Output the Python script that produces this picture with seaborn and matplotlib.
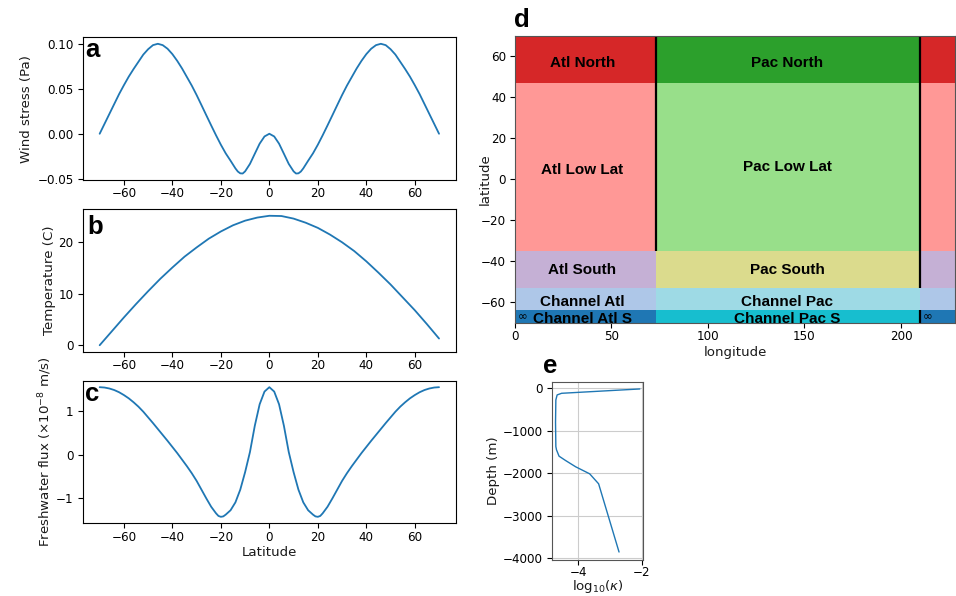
import numpy as np
import pandas as pd
import matplotlib
matplotlib.use("Agg")
import matplotlib.pyplot as plt
from matplotlib.colors import ListedColormap
import seaborn as sns

# ---------------- data ----------------
lat_wind = [-70, -68, -66, -64, -62, -60, -58, -56, -54, -52, -50, -48, -46, -44, -42, -40,
            -38, -36, -34, -32, -30, -28, -26, -24, -22, -20, -18, -16, -14, -13, -12, -11,
            -10, -8, -6, -4, -2, 0, 2, 4, 6, 8, 10, 11, 12, 13, 14, 16, 18, 20, 22, 24, 26,
            28, 30, 32, 34, 36, 38, 40, 42, 44, 46, 48, 50, 52, 54, 56, 58, 60, 62, 64, 66,
            68, 70]
wind_stress = [0.000, 0.011, 0.022, 0.033, 0.044, 0.054, 0.0635, 0.072, 0.080, 0.088, 0.094,
               0.0985, 0.1000, 0.0985, 0.0945, 0.0885, 0.0810, 0.0725, 0.0630, 0.0535, 0.0430,
               0.0318, 0.0205, 0.0093, -0.0017, -0.0122, -0.0218, -0.0300, -0.0385, -0.0420,
               -0.0440, -0.0442, -0.0418, -0.0335, -0.0222, -0.0110, -0.0030, 0.0000,
               -0.0030, -0.0110, -0.0222, -0.0335, -0.0418, -0.0442, -0.0440, -0.0420,
               -0.0385, -0.0300, -0.0218, -0.0122, -0.0017, 0.0093, 0.0205, 0.0318, 0.0430,
               0.0535, 0.0630, 0.0725, 0.0810, 0.0885, 0.0945, 0.0985, 0.1000, 0.0985, 0.094,
               0.088, 0.080, 0.072, 0.0635, 0.054, 0.044, 0.033, 0.022, 0.011, 0.000]

lat_temp = [-70, -65, -60, -55, -50, -45, -40, -35, -30, -25, -20, -15, -10, -5, 0,
            5, 10, 15, 20, 25, 30, 35, 40, 45, 50, 55, 60, 65, 70]
temperature = [0.0, 2.7, 5.4, 8.0, 10.5, 12.9, 15.1, 17.2, 19.0, 20.7, 22.1, 23.3, 24.2, 24.8, 25.15,
               25.1, 24.6, 23.8, 22.8, 21.5, 20.0, 18.3, 16.3, 14.1, 11.8, 9.3, 6.8, 4.1, 1.3]

lat_fw = [-70, -68, -66, -64, -62, -60, -58, -56, -54, -52, -50, -48, -46, -44, -42, -40, -38,
          -36, -34, -32, -30, -28, -26, -24, -22, -21, -20, -19, -18, -16, -14, -12, -10, -8,
          -6, -4, -2, 0, 2, 4, 6, 8, 10, 12, 14, 16, 18, 19, 20, 21, 22, 24, 26, 28, 30, 32,
          34, 36, 38, 40, 42, 44, 46, 48, 50, 52, 54, 56, 58, 60, 62, 64, 66, 68, 70]
freshwater = [1.540, 1.532, 1.510, 1.475, 1.425, 1.360, 1.285, 1.195, 1.095, 0.980, 0.850,
              0.720, 0.585, 0.450, 0.315, 0.175, 0.035, -0.115, -0.265, -0.425, -0.600, -0.800,
              -1.000, -1.190, -1.340, -1.400, -1.420, -1.410, -1.370, -1.270, -1.090, -0.800,
              -0.400, 0.060, 0.660, 1.150, 1.440, 1.540,
              1.440, 1.150, 0.660, 0.060, -0.400, -0.800, -1.090, -1.270, -1.370, -1.410,
              -1.420, -1.400, -1.340, -1.190, -1.000, -0.800, -0.600, -0.425, -0.265, -0.115,
              0.035, 0.175, 0.315, 0.450, 0.585, 0.720, 0.850, 0.980, 1.095, 1.195, 1.285,
              1.360, 1.425, 1.475, 1.510, 1.532, 1.540]

depth = [-16, -118, -157, -275, -800, -1373, -1450, -1600, -1700, -1850, -2016, -2251, -3859]
log_kappa = [-2.07, -4.52, -4.66, -4.70, -4.71, -4.70, -4.68, -4.60, -4.40, -4.08, -3.64, -3.36, -2.72]

# basin map
lon_edges = [0, 73, 210, 228]
lat_edges = [-70, -64, -53, -35, 47, 70]
region_names = ["Atl North", "Pac North", "Atl Low Lat", "Pac Low Lat", "Atl South",
                "Pac South", "Channel Atl", "Channel Pac", "Channel Atl S", "Channel Pac S"]
region_colors = ["#d62728", "#2ca02c", "#ff9896", "#98df8a", "#c5b0d5",
                 "#dbdb8d", "#aec7e8", "#9edae5", "#1f77b4", "#17becf"]
region_grid = [  # rows south -> north, columns west -> east
    ["Channel Atl S", "Channel Pac S", "Channel Atl S"],
    ["Channel Atl", "Channel Pac", "Channel Atl"],
    ["Atl South", "Pac South", "Atl South"],
    ["Atl Low Lat", "Pac Low Lat", "Atl Low Lat"],
    ["Atl North", "Pac North", "Atl North"],
]
label_lon = [35, 141, 35, 141, 35, 141, 35, 141, 35, 141]
label_lat = [57, 57, 4.5, 6, -44.3, -44.3, -59.8, -59.8, -68.2, -68.2]
wall_lon = [73, 210, 210]
wall_lat_lo = [-35, -53, -70]
wall_lat_hi = [70, 70, -64]
periodic_lon = [1.2, 211.2]
periodic_lat = [-67, -67]

# ---------------- style ----------------
sns.set_theme(style="ticks", rc={
    "axes.edgecolor": "black", "axes.linewidth": 0.8,
    "xtick.labelsize": 8.6, "ytick.labelsize": 8.6,
    "axes.labelsize": 9.6,
    "xtick.major.size": 3.5, "ytick.major.size": 3.5,
    "xtick.major.width": 0.8, "ytick.major.width": 0.8,
    "xtick.major.pad": 1.8, "ytick.major.pad": 3.0,
    "xtick.color": "black", "ytick.color": "black",
    "axes.labelcolor": "#1a1a1a", "text.color": "black",
    "axes.labelpad": 3.0,
})
plt.rcParams["font.family"] = ["DejaVu Sans"]

W, H = 956, 596
fig = plt.figure(figsize=(W / 100, H / 100), dpi=100)


def rect(x0, y0, x1, y1):
    return [x0 / W, 1 - y1 / H, (x1 - x0) / W, (y1 - y0) / H]


line_color = "#1f77b4"
lat_ticks = [-60, -40, -20, 0, 20, 40, 60]

ax_a = fig.add_axes(rect(82.7, 37.3, 456, 180))
sns.lineplot(x=lat_wind, y=wind_stress, ax=ax_a, color=line_color, lw=1.3, sort=False, errorbar=None)
ax_a.set_xticks(lat_ticks)
ax_a.set_yticks([-0.05, 0.0, 0.05, 0.10])
ax_a.set_yticklabels(["\u22120.05", "0.00", "0.05", "0.10"])
ax_a.set_ylabel("Wind stress (Pa)")

ax_b = fig.add_axes(rect(82.7, 209.3, 456, 351.7))
sns.lineplot(x=lat_temp, y=temperature, ax=ax_b, color=line_color, lw=1.3, sort=False, errorbar=None)
ax_b.set_xticks(lat_ticks)
ax_b.set_yticks([0, 10, 20])
ax_b.set_ylabel("Temperature (C)", labelpad=2)

ax_c = fig.add_axes(rect(82.7, 380.7, 456, 523.3))
sns.lineplot(x=lat_fw, y=freshwater, ax=ax_c, color=line_color, lw=1.3, sort=False, errorbar=None)
ax_c.set_xticks(lat_ticks)
ax_c.set_yticks([-1, 0, 1])
ax_c.set_ylabel("Freshwater flux ($\\times10^{-8}$ m/s)", labelpad=1.5)
ax_c.set_xlabel("Latitude", labelpad=2)

for ax in (ax_a, ax_b, ax_c):
    ax.margins(x=0.05, y=0.05)

# panel d
ax_d = fig.add_axes(rect(515, 36, 955, 322.7))
codes = np.array([[region_names.index(n) for n in row] for row in region_grid])
cmap = ListedColormap(region_colors)
ax_d.pcolormesh(lon_edges, lat_edges, codes, cmap=cmap, vmin=-0.5, vmax=len(region_names) - 0.5)
ax_d.vlines(wall_lon, wall_lat_lo, wall_lat_hi, colors="black", lw=1.6)
for name, lo, la in zip(region_names, label_lon, label_lat):
    ax_d.text(lo, la, name, ha="center", va="center", fontsize=11, fontweight="bold",
              family="Liberation Sans", color="black", clip_on=True)
for lo, la in zip(periodic_lon, periodic_lat):
    ax_d.text(lo, la, "\u221e", ha="left", va="center", fontsize=8.5, color="black", clip_on=True)
ax_d.set_xlim(lon_edges[0], lon_edges[-1])
ax_d.set_ylim(lat_edges[0], lat_edges[-1])
ax_d.set_xticks([0, 50, 100, 150, 200])
ax_d.set_yticks([-60, -40, -20, 0, 20, 40, 60])
ax_d.set_xlabel("longitude", labelpad=2)
ax_d.set_ylabel("latitude")
ax_d.yaxis.set_label_coords(-0.052, 0.5)
for s in ax_d.spines.values():
    s.set_color("#555555")

# panel e
ax_e = fig.add_axes(rect(551.7, 382.3, 643.3, 560))
sns.lineplot(x=log_kappa, y=depth, ax=ax_e, color=line_color, lw=1.0, sort=False,
             orient="y", errorbar=None)
ax_e.set_xlim(-4.83, -1.96)
ax_e.set_ylim(-4047, 141)
ax_e.set_xticks([-4, -2])
ax_e.set_yticks([0, -1000, -2000, -3000, -4000])
ax_e.tick_params(axis="x", pad=1.0)
ax_e.grid(True, color="#cccccc", lw=0.8)
ax_e.set_axisbelow(True)
ax_e.set_xlabel("log$_{10}(\\kappa)$", labelpad=-1.2)
ax_e.set_ylabel("Depth (m)", labelpad=2)
for s in ax_e.spines.values():
    s.set_color("#555555")

# panel letters
letters = ["a", "b", "c", "d", "e"]
letter_px = [(85, 57.3), (87.5, 234.3), (84.5, 400.7), (514, 26.7), (542.5, 373.3)]
for t, (px, py) in zip(letters, letter_px):
    fig.text(px / W, 1 - py / H, t, fontsize=18.5, fontweight="bold", family="Liberation Sans",
             va="baseline", ha="left", color="black")

fig.savefig("out.png", dpi=100)
